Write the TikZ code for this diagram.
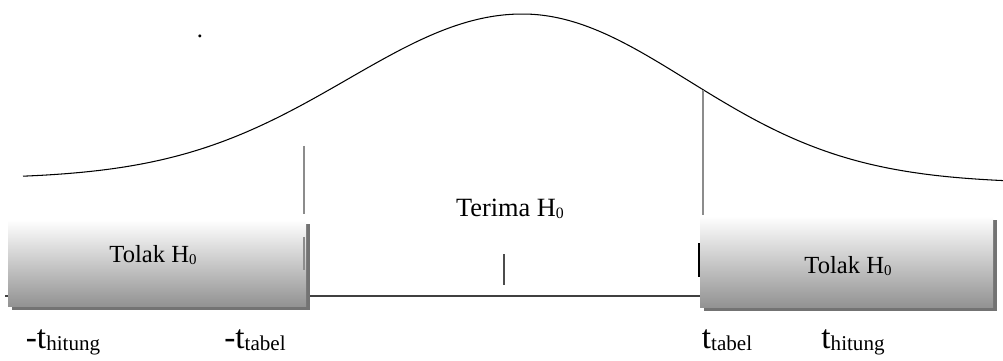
\documentclass[tikz,border=0pt]{standalone}
\usepackage{fontspec}
\setmainfont{Liberation Serif}
\usetikzlibrary{calc}

\newcommand{\lowsub}[2][8.5]{\raisebox{-1.2pt}{\fontsize{#1}{#1}\selectfont #2}}

\begin{document}
\begin{tikzpicture}[
    x=0.02cm, y=-0.02cm,
    tbox/.style={top color=white, bottom color=gray!85},
    shadowbox/.style={fill=black!55},
    vline/.style={draw=gray!90, line width=0.8pt},
    lbl/.style={font=\fontsize{14}{16}\selectfont, anchor=base, inner sep=0pt},
    tlbl/.style={font=\fontsize{19}{22}\selectfont, anchor=base, inner sep=0pt},
]
\useasboundingbox (0,0) rectangle (1003,361);

% bell curve
\draw[line width=0.6pt]
    plot[domain=23:523, samples=80, smooth] (\x, {179+4*(\x-23)/980-167*exp(-0.5*((\x-523)/175)^2)})
    -- plot[domain=523:1003, samples=80, smooth] (\x, {179+4*(\x-23)/980-167*exp(-0.5*((\x-523)/165)^2)});

% axis
\draw[draw=black!75, line width=0.8pt] (5,296) -- (700,296);

% rejection boxes
\fill[shadowbox] (12,224) rectangle (310,310);
\shade[tbox] (8,220) rectangle (306,306);
\fill[shadowbox] (704,220) rectangle (997,311);
\shade[tbox] (700,216) rectangle (993,307);

% critical lines and ticks
\draw[vline] (304,146) -- (304,214);
\draw[vline] (304,237) -- (304,270);
\draw[vline] (703,90) -- (703,215);
\draw[draw=black, line width=1.2pt] (699,243) -- (699,277);
\draw[draw=black!70, line width=0.8pt] (504,254) -- (504,285);

% labels
\node[lbl] (dot) at (200,38) {.};
\node[lbl] (tolakL) at (153,262) {Tolak H\lowsub{0}};
\node[lbl, font=\fontsize{15}{17}\selectfont] (terima) at (510,216) {Terima H\lowsub[9]{0}};
\node[lbl] (tolakR) at (848,273) {Tolak H\lowsub{0}};
\node[tlbl] (hitL) at (63,348) {-t\lowsub[12]{hitung}};
\node[tlbl] (tabL) at (255,348) {-t\lowsub[12]{tabel}};
\node[tlbl] (tabR) at (727,348) {t\lowsub[12]{tabel}};
\node[tlbl] (hitR) at (853,348) {t\lowsub[12]{hitung}};

\end{tikzpicture}
\end{document}
